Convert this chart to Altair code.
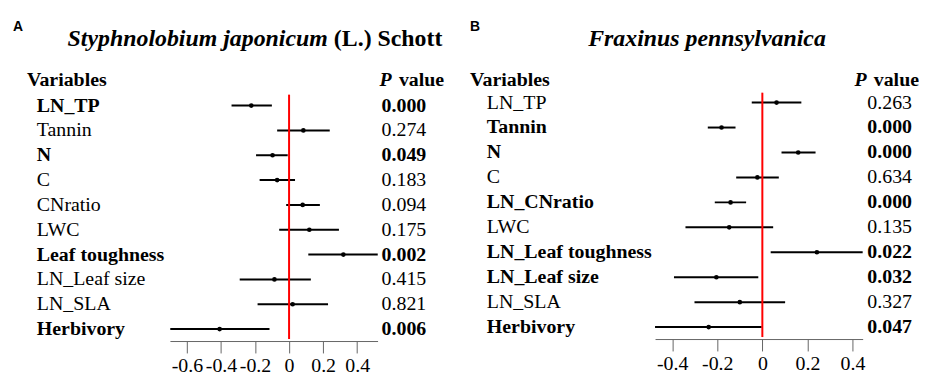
import altair as alt
import pandas as pd

# ---------------- data ----------------
vars_a = ["LN_TP", "Tannin", "N", "C", "CNratio", "LWC", "Leaf toughness",
          "LN_Leaf size", "LN_SLA", "Herbivory"]
est_a = [-0.222, 0.084, -0.097, -0.070, 0.080, 0.119, 0.319, -0.086, 0.021, -0.408]
lo_a = [-0.338, -0.070, -0.194, -0.173, -0.017, -0.058, 0.113, -0.290, -0.185, -0.698]
hi_a = [-0.101, 0.239, -0.008, 0.035, 0.181, 0.293, 0.521, 0.128, 0.229, -0.115]
p_a = ["0.000", "0.274", "0.049", "0.183", "0.094", "0.175", "0.002", "0.415", "0.821", "0.006"]

vars_b = ["LN_TP", "Tannin", "N", "C", "LN_CNratio", "LWC", "LN_Leaf toughness",
          "LN_Leaf size", "LN_SLA", "Herbivory"]
est_b = [0.063, -0.181, 0.159, -0.022, -0.141, -0.147, 0.242, -0.204, -0.100, -0.238]
lo_b = [-0.047, -0.242, 0.085, -0.116, -0.211, -0.341, 0.037, -0.392, -0.301, -0.476]
hi_b = [0.173, -0.119, 0.236, 0.073, -0.072, 0.048, 0.445, -0.018, 0.101, -0.003]
p_b = ["0.263", "0.000", "0.000", "0.634", "0.000", "0.135", "0.022", "0.032", "0.327", "0.047"]

ticks_a = [-0.6, -0.4, -0.2, 0, 0.2, 0.4]
ticks_b = [-0.4, -0.2, 0, 0.2, 0.4]

SERIF = "Times New Roman, Liberation Serif, serif"
SANS = "Arial, Liberation Sans, sans-serif"


def frame(names, est, lo, hi, p):
    return pd.DataFrame({
        "row": list(range(len(names))),
        "var": names, "est": est, "lo": lo, "hi": hi, "p": p,
        "sig": [float(v) < 0.05 for v in p],
    })


label_expr = ("datum.value == 0 ? '0' : (datum.value < 0 ? '-' + format(-datum.value, '.1f') "
              ": format(datum.value, '.1f'))")


def panel(df, xdom, xrange, yrange, ticks, lab_x, p_x, red_top, red_bot, ax_offset,
          letter, letter_x, title_parts, var_x, pv_left, pv_right):
    base = alt.Chart(df)
    xs = alt.Scale(domain=xdom, range=xrange, nice=False, zero=False)
    ys = alt.Scale(domain=[0, 9], range=yrange, nice=False, zero=False)
    axis = alt.Axis(values=ticks, labelExpr=label_expr, title=None, grid=False,
                    orient="bottom", offset=ax_offset,
                    domainColor="#666666", tickColor="#666666", tickSize=12,
                    labelFont=SERIF, labelFontSize=20, labelColor="black",
                    labelPadding=3, labelOverlap=False, labelFlush=False)
    bars = base.mark_rule(color="black", strokeWidth=2).encode(
        x=alt.X("lo:Q", scale=xs, axis=axis),
        x2="hi:Q",
        y=alt.Y("row:Q", scale=ys, axis=None),
    )
    pts = base.mark_circle(color="black", opacity=1, size=22).encode(
        x=alt.X("est:Q", scale=xs),
        y=alt.Y("row:Q", scale=ys),
    )
    red = alt.Chart(pd.DataFrame({"z": [0]})).mark_rule(color="#ff0000", strokeWidth=2).encode(
        x=alt.X("z:Q", scale=xs),
        y=alt.value(red_top), y2=alt.value(red_bot),
    )
    layers = [bars, pts, red]
    for bold in (False, True):
        w = "bold" if bold else "normal"
        sub = base.transform_filter(alt.datum.sig == bold)
        layers.append(sub.mark_text(align="left", baseline="middle", font=SERIF,
                                    fontSize=20, fontWeight=w, color="black").encode(
            x=alt.value(lab_x), y=alt.Y("row:Q", scale=ys), text="var:N"))
        layers.append(sub.mark_text(align="right", baseline="middle", font=SERIF,
                                    fontSize=20, fontWeight=w, color="black").encode(
            x=alt.value(p_x), y=alt.Y("row:Q", scale=ys), text="p:N"))

    def txt(s, x, y, size, weight="bold", style="normal", font=SERIF, align="left"):
        return alt.Chart(pd.DataFrame({"t": [s]})).mark_text(
            align=align, baseline="alphabetic", font=font, fontSize=size,
            fontWeight=weight, fontStyle=style, color="black").encode(
            x=alt.value(x), y=alt.value(y), text="t:N")

    layers.append(txt(letter, letter_x, 22, 14, font=SANS))
    for s, x, st in title_parts:
        layers.append(txt(s, x, 37, 24, style=st))
    layers.append(txt("Variables", var_x, 77, 20))
    layers.append(txt("P", pv_left, 77, 20, style="italic"))
    layers.append(txt("value", pv_right, 77, 20, align="right"))
    return alt.layer(*layers)


df_a = frame(vars_a, est_a, lo_a, hi_a, p_a)
df_b = frame(vars_b, est_b, lo_b, hi_b, p_b)

pa = panel(df_a, [-0.7, 0.52], [163, 372], [97, 322], ticks_a, 29, 421, 86, 332, 0,
           "A", 5, [("Styphnolobium japonicum", 60, "italic"), ("(L.) Schott", 328, "normal")],
           19, 374, 439)
pb = panel(df_b, [-0.476, 0.445], [651.3, 860.3], [94, 320], ticks_b, 482, 910, 84, 330, -2,
           "B", 465, [("Fraxinus pennsylvanica", 584, "italic")],
           465, 852, 917)

chart = alt.layer(pa, pb).resolve_scale(x="independent", y="independent").properties(
    width=911, height=334, padding=0
).configure_view(strokeWidth=0)

chart.save("out.html", embed_options={"renderer": "svg", "actions": False})
